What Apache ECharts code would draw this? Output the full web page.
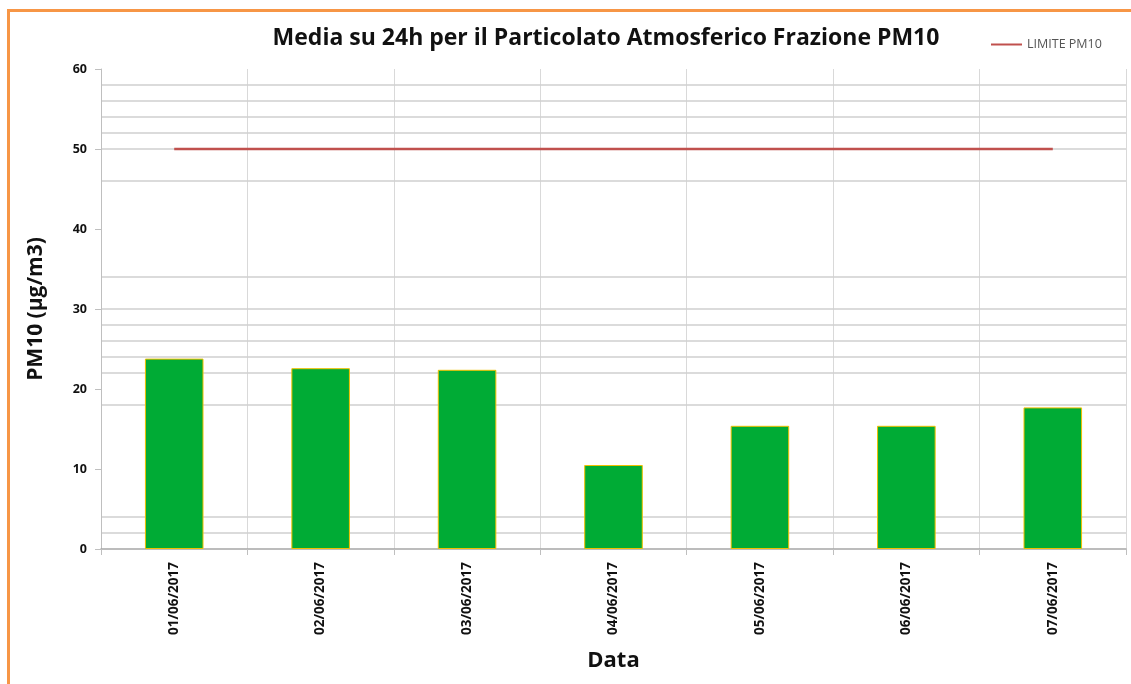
<!DOCTYPE html>
<html>
<head>
<meta charset="utf-8">
<script src="https://cdn.jsdelivr.net/npm/echarts@6/dist/echarts.min.js"></script>
<style>
  html, body { margin: 0; padding: 0; background: #ffffff; }
  #frame { position: absolute; left: 7px; top: 9px; width: 1140px; height: 700px; border-top: 3px solid #f79646; border-left: 3px solid #f79646; box-sizing: border-box; }
  #chart { position: absolute; left: 0; top: 0; width: 1131px; height: 684px; }
</style>
</head>
<body>
<div id="frame"></div>
<div id="chart"></div>
<script>
const categories = ['01/06/2017', '02/06/2017', '03/06/2017', '04/06/2017', '05/06/2017', '06/06/2017', '07/06/2017'];
const pm10Values = [23.8, 22.6, 22.4, 10.5, 15.4, 15.4, 17.7];
const limitValues = [50, 50, 50, 50, 50, 50, 50];
const yTicks = [0, 10, 20, 30, 40, 50, 60];
const gridValues = [2, 4, 18, 22, 24, 26, 28, 30, 34, 46, 50, 52, 54, 56, 58];

const FONT = '"Open Sans", Lato, sans-serif';
const chart = echarts.init(document.getElementById('chart'));
chart.setOption({
  backgroundColor: 'transparent',
  animation: false,
  title: {
    text: 'Media su 24h per il Particolato Atmosferico Frazione PM10',
    left: 601, top: 22, textAlign: 'center',
    textStyle: { fontFamily: FONT, fontWeight: 'bold', fontSize: 23, color: '#111' }
  },
  legend: {
    data: [{ name: 'LIMITE PM10', icon: 'rect' }],
    left: 986, top: 33,
    itemWidth: 31, itemHeight: 2, itemGap: 3,
    textStyle: { fontFamily: FONT, fontSize: 12.5, color: '#555' }
  },
  grid: { left: 101, right: 5, top: 69, bottom: 135 },
  xAxis: {
    type: 'category',
    data: categories,
    boundaryGap: true,
    name: 'Data',
    nameLocation: 'middle',
    nameGap: 101,
    nameTextStyle: { fontFamily: FONT, fontWeight: 'bold', fontSize: 22, color: '#111' },
    axisLine: { lineStyle: { color: '#a6a6a6', width: 1.5 } },
    axisTick: { show: true, interval: 0, length: 6, lineStyle: { color: '#bfbfbf' } },
    axisLabel: { rotate: 90, interval: 0, margin: 13, fontFamily: FONT, fontWeight: 'bold', fontSize: 13.5, color: '#111' },
    splitLine: { show: true, interval: 0, lineStyle: { color: '#d9d9d9', width: 1 } }
  },
  yAxis: {
    type: 'value',
    min: 0, max: 60, interval: 10,
    name: 'PM10 (µg/m3)',
    nameLocation: 'middle',
    nameGap: 54,
    nameTextStyle: { fontFamily: FONT, fontWeight: 'bold', fontSize: 21, color: '#111' },
    axisLine: { show: true, lineStyle: { color: '#bfbfbf' } },
    axisTick: { show: true, length: 6, lineStyle: { color: '#bfbfbf' } },
    axisLabel: {
      margin: 14, fontFamily: FONT, fontWeight: 'bold', fontSize: 12.5, color: '#111',
      formatter: v => yTicks.includes(v) ? String(v) : ''
    },
    splitLine: { show: false }
  },
  series: [
    {
      name: 'grid',
      type: 'line',
      data: [],
      z: 0,
      silent: true,
      markLine: {
        silent: true,
        z: 0,
        symbol: 'none',
        label: { show: false },
        emphasis: { disabled: true },
        lineStyle: { color: '#cfcfcf', width: 1.5, type: 'solid' },
        data: gridValues.map(v => ({ yAxis: v }))
      }
    },
    {
      name: 'PM10',
      type: 'bar',
      data: pm10Values,
      barWidth: '40%',
      z: 3,
      itemStyle: { color: '#00ab35', borderColor: '#f0c000', borderWidth: 1 }
    },
    {
      name: 'LIMITE PM10',
      type: 'line',
      data: limitValues,
      z: 6,
      showSymbol: false,
      symbol: 'none',
      color: '#c0504d',
      lineStyle: { color: '#c0504d', width: 2.5 }
    }
  ]
});
</script>
</body>
</html>
